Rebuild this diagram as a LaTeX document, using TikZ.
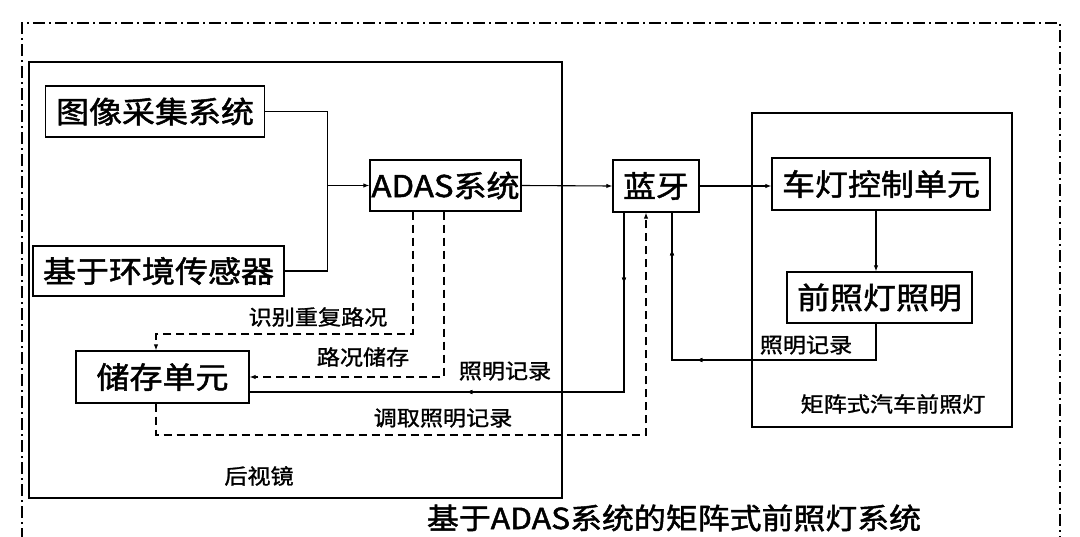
\documentclass[tikz,border=0pt]{standalone}
\usepackage{fontspec}
\setmainfont{Noto Sans CJK SC}[FakeStretch=1.1]
\newfontfamily\boxfont{Noto Sans CJK SC}[FakeStretch=1.1,FakeBold=1.6]
\newfontfamily\lblfont{Noto Sans CJK SC}[FakeStretch=1.1,FakeBold=1.3]
\usetikzlibrary{arrows.meta,decorations.markings}
\tikzset{
  blk/.style={draw, line width=1.3pt, inner sep=0pt, font=\boxfont\fontsize{30}{30}\selectfont},
  grp/.style={draw, line width=2pt, inner sep=0pt},
  lbl/.style={font=\lblfont\fontsize{21}{21}\selectfont, inner sep=0pt},
  ttl/.style={font=\boxfont\fontsize{29}{29}\selectfont, inner sep=0pt},
  conn/.style={line width=1.1pt},
  dconn/.style={line width=1.1pt, dash pattern=on 8pt off 5pt},
  tip/.style={-{Latex[length=6pt,width=4.5pt]}},
  frame/.style={line width=1.5pt, dash pattern=on 12pt off 4pt on 2pt off 4pt},
  markat/.style={postaction=decorate, decoration={markings, mark=at position #1 with {\arrow{Latex[length=6pt,width=4.5pt]}}}},
}
\begin{document}
\begin{tikzpicture}[x=1pt,y=-1pt]
\useasboundingbox (0,0) rectangle (1080,536);
% outer dash-dot frame
\draw[frame] (22,540) -- (22,23) -- (1060,23) -- (1060,540);
% group boxes
\node[grp, minimum width=533pt, minimum height=436pt] (rvm) at (295.5,280) {};
\node[grp, minimum width=260pt, minimum height=314pt] (mat) at (882,270) {};
% blocks
\node[blk, minimum width=219pt, minimum height=51pt] (img) at (155,111.5) {图像采集系统};
\node[blk, minimum width=251pt, minimum height=50pt] (env) at (158.5,271) {基于环境传感器};
\node[blk, minimum width=151pt, minimum height=51pt] (adas) at (445.5,185.5) {ADAS系统};
\node[blk, minimum width=86pt, minimum height=52pt] (bt) at (656,186) {蓝牙};
\node[blk, minimum width=218pt, minimum height=52pt] (ctl) at (881,184) {车灯控制单元};
\node[blk, minimum width=185pt, minimum height=51pt] (hl) at (879.5,297.5) {前照灯照明};
\node[blk, minimum width=173pt, minimum height=52pt] (st) at (162.5,377) {储存单元\hspace{20pt}};
% helper coordinates
\coordinate (j) at (327.5,185.5);
\coordinate (xa) at (413,0);
\coordinate (xb) at (444,0);
\coordinate (xs) at (156,0);
\coordinate (xr) at (624,0);
\coordinate (xd) at (646,0);
\coordinate (xf) at (672,0);
\coordinate (xh) at (876,0);
\coordinate (y1) at (0,334);
\coordinate (y3) at (0,392);
\coordinate (y4) at (0,435);
\coordinate (y5) at (0,360);
% connectors
\draw[conn] (img.east) -| (j) |- (env.east);
\draw[conn,tip] (j) -- (adas.west);
\draw[conn,tip] (adas.east) -- (bt.west);
\draw[conn,tip] (bt.east) -- (bt.east -| ctl.west);
\draw[conn,tip] (ctl.south -| xh) -- (hl.north -| xh);
\draw[conn, markat=216pt, markat=351pt] (hl.south -| xh) |- (xf |- y5) -- (bt.south -| xf);
\draw[dconn,tip] (adas.south -| xa) |- (xs |- y1) -- (st.north -| xs);
\draw[dconn,tip] (adas.south -| xb) |- (st.east);
\draw[conn, markat=71pt, markat=337pt] (bt.south -| xr) |- (st.east |- y3);
\draw[dconn,tip] (st.south -| xs) |- (xd |- y4) -- (bt.south -| xd);
% labels
\node[lbl] (l1) at (318,317) {识别重复路况};
\node[lbl] (l2) at (363,357) {路况储存};
\node[lbl] (l3) at (505,371) {照明记录};
\node[lbl] (l4) at (443,418) {调取照明记录};
\node[lbl] (l5) at (259,476) {后视镜};
\node[lbl] (l6) at (806,345) {照明记录};
\node[lbl] (l7) at (893,404) {矩阵式汽车前照灯};
\node[ttl] (title) at (674,518) {基于ADAS系统的矩阵式前照灯系统};
\end{tikzpicture}
\end{document}
